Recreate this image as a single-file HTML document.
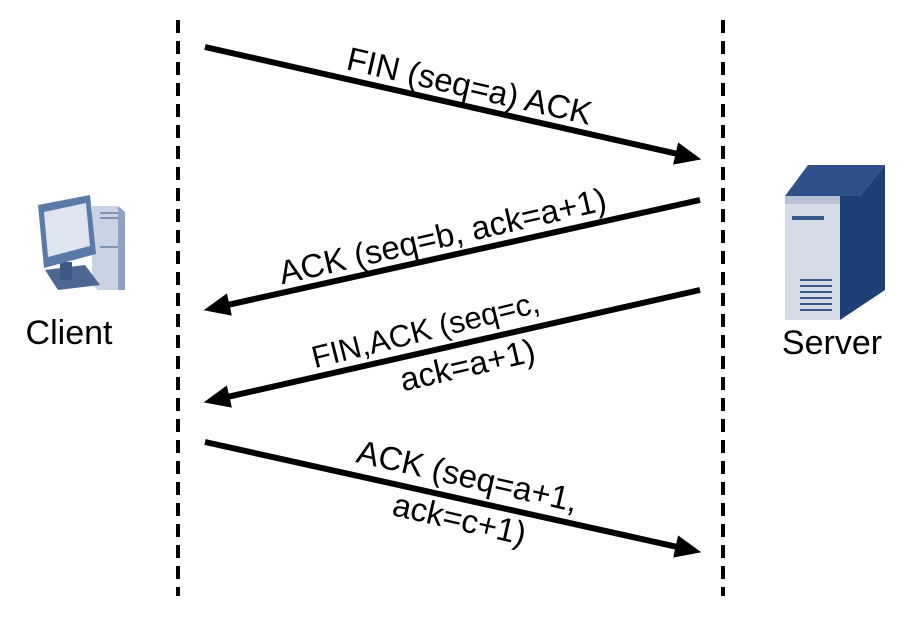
<!DOCTYPE html>
<html><head><style>body{margin:0;background:#fff}svg{display:block}</style></head>
<body>
<svg width="918" height="626" viewBox="0 0 918 626" xmlns="http://www.w3.org/2000/svg" font-family="Liberation Sans, Arial, sans-serif">
<defs>
<marker id="ah" markerWidth="5" markerHeight="5" refX="2.5" refY="2.5" orient="auto" markerUnits="strokeWidth">
<path d="M0,0.6 L4.4,2.5 L0,4.4 Z" fill="#000"/></marker>
</defs>
<line x1="178" y1="20" x2="178" y2="596" stroke="#000" stroke-width="4" stroke-dasharray="13,8"/>
<line x1="723" y1="20" x2="723" y2="596" stroke="#000" stroke-width="4" stroke-dasharray="13,8"/>
<line x1="205" y1="47" x2="690.2" y2="156.8" stroke="#000" stroke-width="6" marker-end="url(#ah)"/>
<line x1="700" y1="200" x2="214.8" y2="307.8" stroke="#000" stroke-width="6" marker-end="url(#ah)"/>
<line x1="700" y1="290" x2="214.8" y2="399.8" stroke="#000" stroke-width="6" marker-end="url(#ah)"/>
<line x1="205" y1="442" x2="690.2" y2="549.8" stroke="#000" stroke-width="6" marker-end="url(#ah)"/>
<g font-size="33" fill="#000" text-anchor="middle">
<text transform="translate(467,97) rotate(12.9)">FIN (seq=a)  ACK</text>
<text transform="translate(445,247) rotate(-12.9)">ACK (seq=b, ack=a+1)</text>
<text transform="translate(428,340) rotate(-14)" font-size="31">FIN,ACK (seq=c,</text>
<text transform="translate(470,376) rotate(-12.9)">ack=a+1)</text>
<text transform="translate(465,487) rotate(12.9)">ACK (seq=a+1,</text>
<text transform="translate(457,530) rotate(12.9)">ack=c+1)</text>
</g>
<g font-size="34" fill="#000" text-anchor="middle">
<text x="69" y="344">Client</text>
<text x="832" y="354">Server</text>
</g>
<!-- client icon -->
<polygon points="92,206 118,206 125,212 125,290 98,290 92,284" fill="#c9d3e3"/>
<polygon points="118,206 125,212 125,290 118,290" fill="#8ea3c3"/>
<line x1="100" y1="213" x2="118" y2="213" stroke="#7f93b5" stroke-width="2"/>
<line x1="100" y1="218" x2="118" y2="218" stroke="#7f93b5" stroke-width="2"/>
<line x1="100" y1="247" x2="118" y2="247" stroke="#7f93b5" stroke-width="2"/>
<polygon points="45,270 85,265 100,285 58,290" fill="#4d6792"/>
<polygon points="60,262 72,262 72,280 60,280" fill="#3d5887"/>
<polygon points="38,205 90,195 96,254 44,268" fill="#5a7aa8"/>
<polygon points="44,212 86,203 90,246 48,257" fill="#dfe5ef"/>
<!-- server icon -->
<polygon points="785,196 808,165 885,165 860,196" fill="#2f5189"/>
<polygon points="840,196 860,196 885,165 885,290 840,320" fill="#1d3f78"/>
<rect x="785" y="196" width="55" height="124" fill="#d5dbe6"/>
<rect x="785" y="196" width="55" height="8" fill="#b8c2d4"/>
<rect x="792" y="216" width="32" height="4" fill="#3a5a8e"/>
<g stroke="#3a5a8e" stroke-width="2">
<line x1="800" y1="280" x2="832" y2="280"/><line x1="800" y1="286" x2="832" y2="286"/>
<line x1="800" y1="292" x2="832" y2="292"/><line x1="800" y1="298" x2="832" y2="298"/>
<line x1="800" y1="304" x2="832" y2="304"/><line x1="800" y1="310" x2="832" y2="310"/>
</g>
</svg>
</body></html>
